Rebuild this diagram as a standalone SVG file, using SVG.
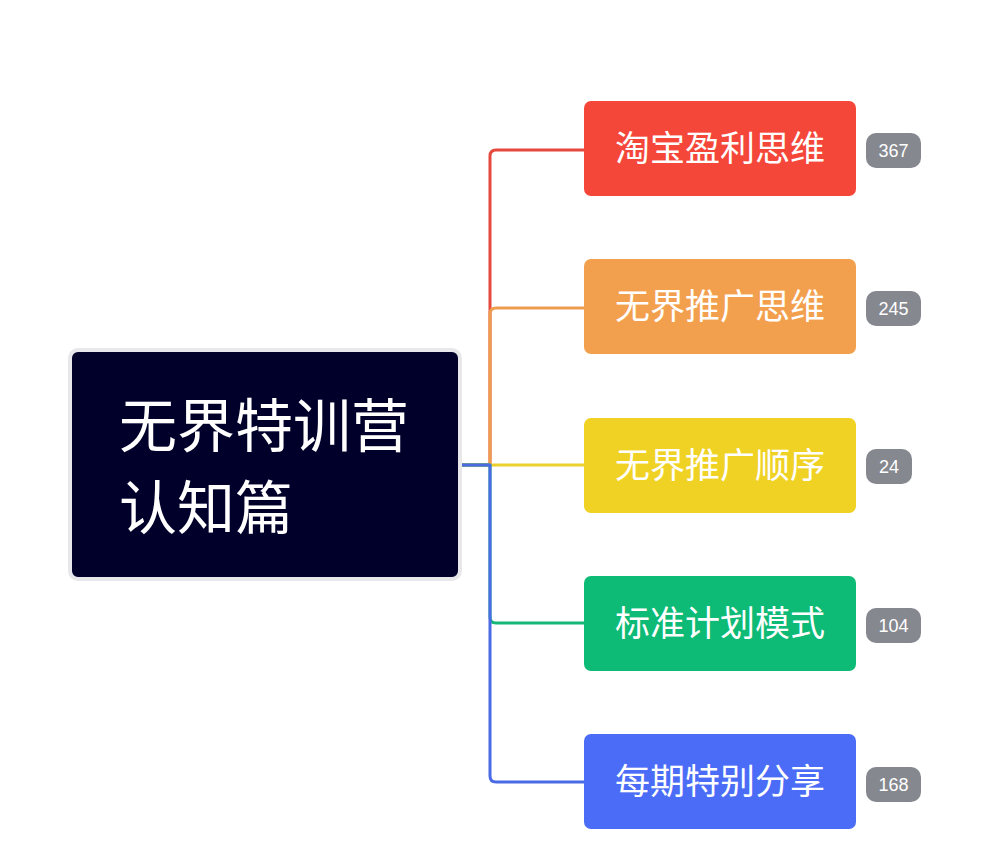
<svg xmlns="http://www.w3.org/2000/svg" width="996" height="868" viewBox="0 0 996 868">
<style>
.conn{fill:none;stroke-width:3;stroke-linecap:round;stroke-linejoin:round}
.child{rx:7}
.ct{font-family:"Noto Sans CJK SC","Liberation Sans",sans-serif;font-size:35px;fill:#ffffff;text-anchor:middle}
.rt{font-family:"Noto Sans CJK SC","Liberation Sans",sans-serif;font-size:58px;fill:#ffffff}
.badge{fill:#86888f}
.bt{font-family:"Liberation Sans","Noto Sans",sans-serif;font-size:18px;fill:#ffffff;text-anchor:middle}
</style>
<rect width="996" height="868" fill="#ffffff"/>
<g id="connectors">
<path class="conn" stroke="#e5493d" d="M460,465 H490 V156 Q490,150 496,150 H584"/>
<path class="conn" stroke="#ee9c4f" d="M460,465 H490 V314 Q490,308 496,308 H584"/>
<path class="conn" stroke="#ecd02c" d="M460,465 H584"/>
<path class="conn" stroke="#15b677" d="M460,465 H490 V617 Q490,623 496,623 H584"/>
<path class="conn" stroke="#4a6ae6" d="M460,465 H490 V776 Q490,782 496,782 H584"/>
</g>
<g id="root">
<rect x="70" y="350" width="390" height="229" rx="8" fill="#00002a" stroke="#e8e8ea" stroke-width="4"/>
<text class="rt" x="119" y="447">无界特训营</text>
<text class="rt" x="119" y="529">认知篇</text>
</g>
<g id="n1">
<rect x="584" y="101" width="272" height="95" rx="7" fill="#f5463a"/>
<text class="ct" x="720" y="161">淘宝盈利思维</text>
<rect class="badge" x="866" y="133" width="55" height="35" rx="10"/>
<text class="bt" x="893.5" y="157">367</text>
</g>
<g id="n2">
<rect x="584" y="259" width="272" height="95" rx="7" fill="#f3a04e"/>
<text class="ct" x="720" y="319">无界推广思维</text>
<rect class="badge" x="866" y="291" width="55" height="35" rx="10"/>
<text class="bt" x="893.5" y="315">245</text>
</g>
<g id="n3">
<rect x="584" y="418" width="272" height="95" rx="7" fill="#f0d225"/>
<text class="ct" x="720" y="478">无界推广顺序</text>
<rect class="badge" x="866" y="449" width="46" height="35" rx="10"/>
<text class="bt" x="889" y="473">24</text>
</g>
<g id="n4">
<rect x="584" y="576" width="272" height="95" rx="7" fill="#0dba76"/>
<text class="ct" x="720" y="636">标准计划模式</text>
<rect class="badge" x="866" y="608" width="55" height="35" rx="10"/>
<text class="bt" x="893.5" y="632">104</text>
</g>
<g id="n5">
<rect x="584" y="734" width="272" height="95" rx="7" fill="#4a6cf6"/>
<text class="ct" x="720" y="794">每期特别分享</text>
<rect class="badge" x="866" y="767" width="55" height="35" rx="10"/>
<text class="bt" x="893.5" y="791">168</text>
</g>
</svg>
